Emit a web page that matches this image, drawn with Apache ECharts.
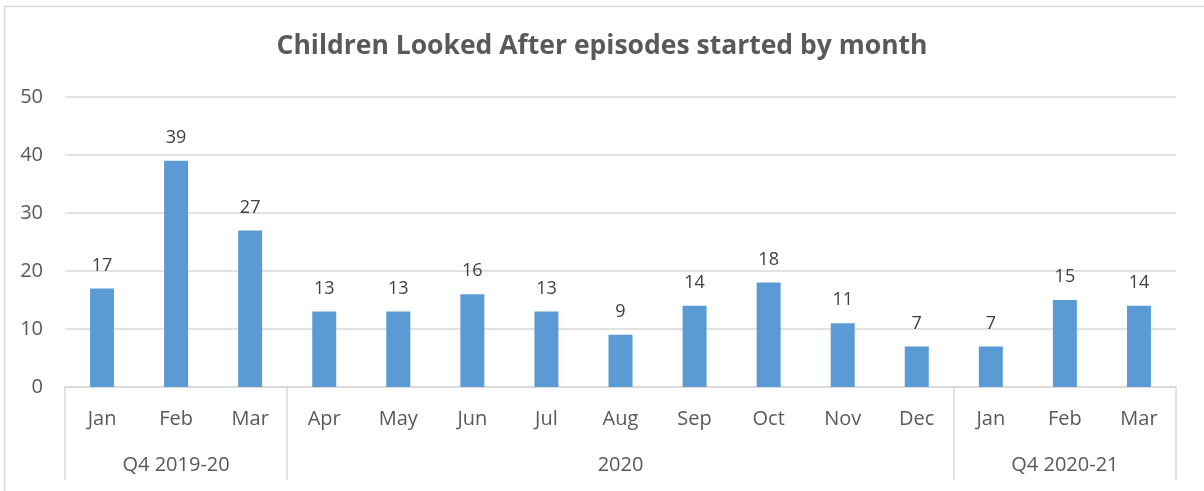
<!DOCTYPE html>
<html>
<head>
<meta charset="utf-8">
<script src="https://cdn.jsdelivr.net/npm/echarts@6/dist/echarts.min.js"></script>
<style>
  html, body { margin: 0; padding: 0; background: #fff; }
  #chart { width: 1204px; height: 491px; }
</style>
</head>
<body>
<div id="chart"></div>
<script>
// months along the axis
var months = ['Jan', 'Feb', 'Mar', 'Apr', 'May', 'Jun', 'Jul', 'Aug', 'Sep', 'Oct', 'Nov', 'Dec', 'Jan', 'Feb', 'Mar'];
// episodes started each month
var episodes = [17, 39, 27, 13, 13, 16, 13, 9, 14, 18, 11, 7, 7, 15, 14];
// group labels and where each group starts / ends (in month index)
var groups = ['Q4 2019-20', '2020', 'Q4 2020-21'];
var groupStart = [0, 3, 12];
var groupEnd = [3, 12, 15];

var chart = echarts.init(document.getElementById('chart'));

// boundaries between groups get the long separator tick
var boundaries = groupStart.concat([months.length]);

// label lookup for the group axis, in half-month units
var groupAt = {};
groups.forEach(function (g, i) {
  groupAt[groupStart[i] + groupEnd[i]] = g;
});

var option = {
  title: {
    text: 'Children Looked After episodes started by month',
    left: 'center',
    top: 28,
    textStyle: {
      fontFamily: 'Open Sans',
      fontSize: 26.5,
      fontWeight: 'bold',
      color: '#595959'
    }
  },
  graphic: [{
    type: 'rect',
    left: 2,
    top: 4,
    shape: { width: 1300, height: 600 },
    style: { fill: 'none', stroke: '#d9d9d9', lineWidth: 1.5 },
    silent: true
  }],
  grid: {
    left: 65,
    right: 28,
    top: 97,
    bottom: 104
  },
  xAxis: [{
    type: 'category',
    data: months,
    axisLine: { lineStyle: { color: '#d9d9d9', width: 1.5 } },
    axisTick: {
      show: true,
      length: 93,
      interval: function (i) { return boundaries.indexOf(i) >= 0; },
      lineStyle: { color: '#d9d9d9', width: 1.5 }
    },
    axisLabel: {
      interval: 0,
      margin: 22,
      fontFamily: 'Open Sans',
      fontSize: 20,
      color: '#595959'
    }
  }, {
    type: 'value',
    position: 'bottom',
    min: 0,
    max: months.length * 2,
    interval: 1,
    offset: 0,
    axisLine: { show: false },
    axisTick: { show: false },
    splitLine: { show: false },
    axisLabel: {
      margin: 68,
      fontFamily: 'Open Sans',
      fontSize: 20,
      color: '#595959',
      formatter: function (v) { return groupAt[v] || ''; }
    }
  }],
  yAxis: {
    type: 'value',
    min: 0,
    max: 50,
    interval: 10,
    axisLine: { show: false },
    axisTick: { show: false },
    axisLabel: {
      margin: 22,
      fontFamily: 'Open Sans',
      fontSize: 20,
      color: '#595959'
    },
    splitLine: { lineStyle: { color: '#d9d9d9', width: 1.5 } }
  },
  series: [{
    type: 'bar',
    xAxisIndex: 0,
    data: episodes,
    barWidth: 24,
    itemStyle: { color: '#5b9bd5' },
    label: {
      show: true,
      position: 'top',
      distance: 14,
      fontFamily: 'Open Sans',
      fontSize: 18,
      color: '#404040'
    }
  }]
};

chart.setOption(option);
</script>
</body>
</html>
